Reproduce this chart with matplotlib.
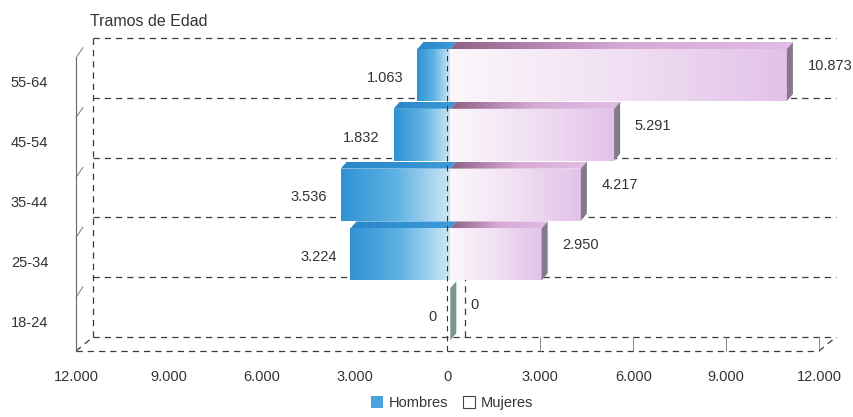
import numpy as np
import matplotlib.pyplot as plt
from matplotlib.colors import LinearSegmentedColormap
from matplotlib.patches import Polygon, Patch

plt.rcParams['font.family'] = ['Liberation Sans', 'DejaVu Sans']

tramos = ["18-24", "25-34", "35-44", "45-54", "55-64"]
hombres = [0, 3224, 3536, 1832, 1063]
mujeres = [0, 2950, 4217, 5291, 10873]
ticks = [-12000, -9000, -6000, -3000, 0, 3000, 6000, 9000, 12000]


def miles(v):
    return f"{abs(v):,}".replace(",", ".")


W, H = 854, 417
fila = 59.8  # px per age group
ytop = 5.4
fig = plt.figure(figsize=(W / 100, H / 100), dpi=100)
ax = fig.add_axes([76 / W, 66 / H, 743 / W, ytop * fila / H])
for s in ax.spines.values():
    s.set_visible(False)

# fake 3D: offset of the back wall and depth of the bars
dx, dy = 550, 0.234
bdx, bdy = 195, 0.117
ox = 90
bot, alto = 0.18, 0.87

txt = '#333333'
grid = dict(color='#3a3a3a', lw=0.9, ls=(0, (5, 4)), zorder=1, clip_on=False)

# back wall
for k in range(6):
    ax.plot([-12000 + dx, 12000 + dx], [k + dy] * 2, **grid)
ax.plot([-12000 + dx] * 2, [dy, 5 + dy], **grid)
ax.plot([dx, dx], [dy, 1 + dy], **grid)
# floor
ax.plot([-12000, 12000], [0, 0], **grid)
ax.plot([12000, 12000 + dx], [0, dy], **grid)
ax.plot([-12000, -12000 + dx], [0, dy], **grid)
for t in ticks[5:]:
    ax.plot([t, t], [0, dy], color='#777777', lw=0.6, zorder=1, clip_on=False)
# front left wall
ax.plot([-12000, -12000], [0, 4.9], color='#666666', lw=0.8, zorder=1, clip_on=False)
for k in range(1, 6):
    ax.plot([-12000, -12000 + dx * 0.4], [k - 0.1, k + dy * 0.3],
            color='#777777', lw=0.7, zorder=1, clip_on=False)


def degradado(poly, colores, x0, x1, y0, y1, z):
    cmap = LinearSegmentedColormap.from_list('g', colores)
    im = ax.imshow(np.linspace(0, 1, 256)[None, :], cmap=cmap, aspect='auto',
                   extent=(x0, x1, y0, y1), zorder=z, interpolation='bilinear')
    p = Polygon(poly, closed=True, fc='none', ec='none', zorder=z)
    ax.add_patch(p)
    im.set_clip_path(p)


for i in range(len(tramos)):
    z = 3 + i * 0.1
    y0, y1 = i + bot, i + bot + alto
    # Hombres (izquierda)
    v = hombres[i]
    if v > 0:
        x0 = -v + ox
        degradado([(x0, y0), (ox, y0), (ox, y1), (x0, y1)],
                  ['#2e92d4', '#5fb2e3', '#cfe8f5'], x0, ox, y0, y1, z)
        degradado([(x0, y1), (x0 + bdx, y1 + bdy), (ox + bdx, y1 + bdy), (ox, y1)],
                  ['#2a86c8', '#3d9bd8'], x0, ox + bdx, y1, y1 + bdy, z)
    ax.text(-v + ox - 450, i + 0.57, miles(v), ha='right', va='center',
            fontsize=10.5, color=txt, zorder=8)
    # Mujeres (derecha)
    v = mujeres[i]
    x1 = v + ox
    if v > 0:
        degradado([(ox, y0), (x1, y0), (x1, y1), (ox, y1)],
                  ['#fbf7fb', '#f1e0f3', '#e2c2e8'], ox, x1, y0, y1, z + 0.01)
        degradado([(ox, y1), (ox + bdx, y1 + bdy), (x1 + bdx, y1 + bdy), (x1, y1)],
                  ['#8e5f86', '#d7a9d6', '#e0bde4'], ox, x1 + bdx, y1, y1 + bdy, z + 0.01)
    side = '#857a8c' if v > 0 else '#7c978a'
    ax.add_patch(Polygon([(x1, y0), (x1 + bdx, y0 + bdy), (x1 + bdx, y1 + bdy), (x1, y1)],
                         closed=True, fc=side, ec='none', zorder=z + 0.02))
    ax.text(x1 + bdx + 470, i + 0.77, miles(v), ha='left', va='center',
            fontsize=10.5, color=txt, zorder=8)

# zero line across the bars
ax.plot([0, 0], [0, 5.05], color='#333333', lw=0.8, ls=(0, (5, 4)), zorder=6, clip_on=False)

ax.set_xlim(-12000, 12000)
ax.set_ylim(0, ytop)
ax.set_xticks(ticks)
ax.set_xticklabels([miles(t) for t in ticks])
ax.set_yticks([i + 0.5 for i in range(len(tramos))])
ax.set_yticklabels(tramos)
ax.tick_params(axis='x', length=0, pad=13.5, labelsize=10.5, labelcolor=txt)
ax.tick_params(axis='y', length=0, pad=20, labelsize=10.5, labelcolor=txt)

fig.text(90 / W, 1 - 22 / H, "Tramos de Edad", fontsize=11.5, va='center', color=txt)

fig.legend(handles=[Patch(fc='#4aa3dc', label='Hombres'),
                    Patch(fc='white', ec='#444444', lw=0.8, label='Mujeres')],
           loc='center', bbox_to_anchor=(452 / W, 1 - 403 / H), ncol=2, frameon=False,
           fontsize=10.5, handlelength=0.8, handleheight=0.8, handletextpad=0.4,
           columnspacing=1.0, labelcolor=txt)

fig.savefig('out.png', dpi=100)
